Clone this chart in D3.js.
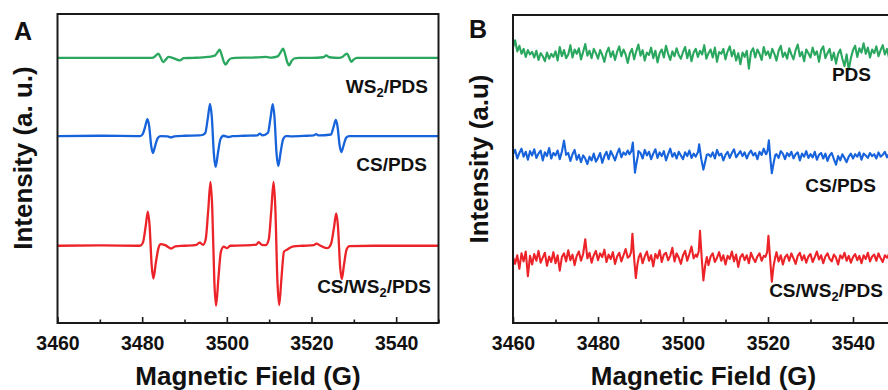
<!DOCTYPE html>
<html>
<head>
<meta charset="utf-8">
<script src="https://cdn.jsdelivr.net/npm/d3@7"></script>
<style>
  body { margin: 0; background: #fff; }
  svg { display: block; font-family: 'Liberation Sans', Arial, sans-serif; font-weight: bold; }
</style>
</head>
<body>
<svg id="chart" width="888" height="390"></svg>
<script>
// field axis (G)
const fieldDomain = [3460, 3550]
const majorTicks = [3460, 3480, 3500, 3520, 3540]
const minorTicks = [3470, 3490, 3510, 3530, 3550]

// panel A: [field, intensity], stacked with offsets
const offsetsA = { ws2: 85.8, cs: 60.5, csws2: 25.0 }

const ws2PdsA = [
  [3460, 0], [3482.0, 0], [3482.6, 0.1], [3483.2, 0.7], [3483.8, 1.4], [3484.35, 0.2], [3484.95, -1.4],
  [3485.6, -0.5], [3486.2, 0.3], [3487, 0.1], [3488.9, -0.8], [3489.8, -0.1], [3492, 0], [3495.5, 0.3],
  [3496.5, 0.5], [3497.2, 0.8], [3497.8, 1.8], [3498.3, 2.7], [3498.8, 0.9], [3499.3, -1.3], [3499.7, -2.2],
  [3500.3, -1.0], [3500.9, -0.2], [3502, 0], [3506, 0.1], [3509.3, 0.3], [3510.5, 0.1], [3512.0, 0.5],
  [3512.7, 1.8], [3513.3, 3.0], [3513.8, 1.0], [3514.3, -1.5], [3514.7, -2.4], [3515.3, -1.0], [3515.9, -0.2],
  [3517, 0], [3520, 0], [3522.8, 0.2], [3523.5, 0.8], [3524.2, 0.2], [3526.5, 0], [3527.3, 0.3],
  [3527.9, 1.0], [3528.4, 1.4], [3528.9, 0.1], [3529.4, -1.3], [3530.0, -0.5], [3530.7, 0], [3550, 0]
]

const csPdsA = [
  [3460, 0], [3470, 0.1], [3479.5, 0],
  [3480.1, 0.55], [3480.7, 3.0], [3481.25, 5.5], [3481.65, 3.3], [3482.15, -3.3], [3482.55, -5.5],
  [3483.1, -3.0], [3483.7, -0.6], [3484.4, 0], [3486.0, -0.1], [3486.8, -0.45], [3487.6, -0.1],
  [3490, 0.1], [3493.5, 0.2], [3494.2, 0.35],
  [3494.9, 1.0], [3495.5, 5.7], [3496.05, 10.4], [3496.45, 6.2], [3496.95, -6.0], [3497.35, -10.0],
  [3497.9, -5.5], [3498.5, -1.0], [3499.2, 0.1], [3500.4, -0.3], [3501.3, -0.05], [3504, 0.1],
  [3507.2, 0.2], [3507.8, 0.8], [3508.4, 0.2],
  [3509.7, 1.0], [3510.3, 5.7], [3510.85, 10.3], [3511.25, 6.2], [3511.75, -5.8], [3512.15, -9.7],
  [3512.7, -5.3], [3513.3, -1.0], [3514.0, 0], [3515, -0.1], [3519, 0.1],
  [3520.5, 0.2], [3521.1, 0.6], [3521.7, 0.2],
  [3524.6, 0.5], [3525.2, 2.9], [3525.75, 5.2], [3526.15, 3.1], [3526.65, -3.1], [3527.05, -5.2],
  [3527.6, -2.9], [3528.2, -0.5], [3528.9, 0], [3535, 0], [3550, 0]
]

const csWs2PdsA = [
  [3460, 0], [3470, 0.1], [3479.5, 0],
  [3480.2, 1.1], [3480.8, 6.0], [3481.35, 11.0], [3481.75, 6.6], [3482.25, -6.4], [3482.65, -10.6],
  [3483.2, -5.8], [3483.8, -1.0], [3484.4, 0.5], [3485.4, 0.2], [3486.9, -0.9], [3487.8, -0.2],
  [3490, 0], [3492.8, 0.3], [3493.6, 1.0], [3494.4, 0.3],
  [3495.0, 2.0], [3495.6, 11.4], [3496.15, 20.7], [3496.55, 12.4], [3497.05, -11.6], [3497.45, -19.4],
  [3498.0, -10.7], [3498.6, -1.9], [3499.3, -0.3], [3500.0, -0.8], [3500.8, 0], [3504, 0.1],
  [3507.0, 0.4], [3507.5, 1.2], [3508.3, 0.3], [3509.2, 0.2],
  [3509.9, 2.0], [3510.5, 11.4], [3511.05, 20.7], [3511.45, 12.4], [3511.95, -11.5], [3512.35, -19.2],
  [3512.9, -10.6], [3513.5, -1.9], [3514.3, -1.2], [3515.5, -0.3], [3518, 0],
  [3520.5, 0.2], [3521.2, 0.7], [3522, 0.1], [3523.6, -0.8], [3524.2, -0.4],
  [3524.7, 1.0], [3525.3, 5.8], [3525.85, 10.5], [3526.25, 6.3], [3526.75, -6.5], [3527.15, -10.8],
  [3527.7, -5.9], [3528.3, -1.1], [3529.0, -0.1], [3535, 0], [3550, 0]
]

// panel B: noisy traces sampled every 0.5 G from 3460 G, plus the narrow lines
const stepB = 0.5
const offsetsB = { pds: 87.0, cs: 54.0, csws2: 20.8 }

const pdsB = [
  2.4, 4.8, 1.2, 3.0, 0.4, 2.0, -0.6, 1.6, 0.2, 1.0,
  -0.8, 1.4, -1.6, 0.6, -0.4, -2.0, 0.8, -1.2, 0.4, -0.6,
  1.2, -1.8, 2.6, -0.4, 1.6, -1.0, 0.2, 3.2, -0.8, 1.8,
  0.4, 2.2, -1.4, 1.0, 3.6, -0.2, 1.4, -1.0, 2.0, 0.6,
  -1.2, 1.6, 0.0, -2.2, 0.8, 2.4, -0.6, 1.2, -1.6, 1.0,
  2.8, -0.4, 1.8, 0.2, -2.6, 0.6, 2.0, -1.4, 1.2, 3.4,
  -0.2, 1.6, -1.8, 0.8, 0.0, 2.4, -1.0, 1.4, -2.4, 0.6,
  1.8, -0.8, 3.0, 0.4, -1.6, 1.2, -0.4, 2.2, 0.0, -1.2,
  1.0, 2.6, -1.0, 1.6, -2.0, 0.8, 2.0, -0.6, 1.4, 0.2,
  3.2, -1.2, 0.6, 1.8, -0.8, 2.4, -2.2, 1.0, 0.4, 2.0,
  -1.4, 1.2, 2.8, -0.4, 1.6, -1.8, 0.6, -3.0, 0.8, -0.6,
  1.4, -4.4, 1.0, 2.2, -0.8, 1.8, 0.4, -1.6, 2.6, 0.0,
  1.2, -1.0, 2.0, 0.4, -1.8, 1.4, 3.0, -0.6, 0.8, -1.2,
  2.2, 0.2, -1.4, 1.6, 3.4, -0.4, 1.0, -2.0, 1.8, 0.6,
  -0.8, 2.4, 0.0, 1.2, -2.2, 1.6, 2.8, -1.0, 0.6, 2.0,
  -1.6, 0.8, -2.8, 0.4, 1.8, -1.2, -3.6, 0.2, -4.8, -1.0,
  1.6, 3.0, -0.6, 2.2, 0.8, 3.8, 0.4, 2.4, -0.8, 1.8,
  0.6, 2.8, -0.4, 1.6, 3.2, 0.2, 2.0, -1.0, 1.4, 2.4,
  0.8
]

const csPdsB = [
  0.8, 2.2, -0.6, 1.2, 2.6, 0.0, 1.6, -1.0, 1.8, 0.4,
  2.4, -0.4, 1.0, 2.0, -1.2, 1.4, 0.2, 2.8, -0.6, 1.2,
  0.4, 2.0, -0.8, 1.6, 5.2, 0.6, 1.2, -1.4, 0.8, 2.2,
  -1.0, 0.6, -1.8, 0.4, -0.6, -2.4, 0.0, -1.2, 1.0, -1.6,
  -0.4, 1.2, -2.0, 0.2, 1.6, -0.8, 1.8, 0.4, -1.2, 1.0,
  2.6, -0.2, 1.4, 0.6, 2.0, 0.4, 0.0, -1.0, 0.8, 1.8,
  1.2, -0.6, 2.2, 0.4, 1.6, -0.8, 1.0, 2.4, -0.4, 1.4,
  0.2, 1.8, -1.2, 0.8, 2.6, 0.0, 1.2, -0.6, 1.6, 0.4,
  -0.8, 1.4, 0.2, 2.0, -0.4, 1.0, 0.0, 0.6, 1.2, 0.4,
  1.8, -1.0, 0.8, 0.0, 1.4, -0.6, 2.2, 0.4, 1.0, -1.2,
  0.6, 1.6, -0.4, 1.2, 2.4, -0.2, 0.8, 1.8, 0.2, 1.4,
  -0.6, 1.0, 2.0, 0.4, 1.2, -0.8, 1.6, 0.6, 2.6, 0.8,
  0.6, 1.6, 0.2, 2.0, 0.8, -0.4, 1.8, 1.0, -0.8, 1.2,
  0.2, 1.6, -0.6, 0.8, 1.4, -1.2, 1.0, 0.0, 1.8, -0.4,
  0.8, -0.2, 1.6, -1.0, 0.6, 1.2, -0.6, 1.0, -1.4, 0.4,
  1.2, -0.8, -2.6, 0.2, -1.2, 0.8, -0.4, -1.8, 0.0, 1.0,
  -0.6, 0.8, 0.0, 1.4, -1.0, 1.0, 0.4, -0.4, 1.2, 0.2,
  0.8, -0.6, 1.4, 0.0, 0.6, 1.6, -0.2, 1.0, 1.8, 0.4,
  1.2
]

const csWs2PdsB = [
  0.6, -1.6, 1.2, -3.2, 1.8, -0.8, 2.4, -5.6, 1.0, -1.8,
  1.6, -0.6, 2.6, -1.2, 0.4, 2.0, -2.2, 0.8, -1.0, 2.2,
  -1.4, 1.2, -3.8, 0.6, 1.8, -0.8, 2.8, -0.4, 1.4, -2.0,
  1.0, 2.4, -0.6, 1.6, 6.4, 0.2, 2.0, -1.2, 1.2, 2.6,
  -0.4, 1.8, 0.6, 3.0, -1.0, 1.4, 0.0, 2.2, -1.6, 0.8,
  2.0, -0.8, 1.2, 3.2, 0.4, 1.6, 0.0, 1.0, -1.2, 0.6,
  1.8, -1.4, 0.8, 2.4, -0.6, 1.2, -2.4, 1.6, 0.2, 2.8,
  -1.0, 1.4, 2.0, -0.4, 1.0, 3.6, -0.8, 1.8, 0.4, -1.6,
  1.2, 2.6, -0.6, 1.6, 4.0, 0.2, 1.4, 0.4, 1.0, 0.6,
  -1.2, 1.6, -2.0, 0.8, 1.8, -1.0, 0.4, 2.2, -0.6, 1.2,
  -1.8, 1.0, 0.0, 2.4, -0.8, 1.4, -2.6, 0.6, 1.6, -0.4,
  1.2, -1.4, 2.0, 0.2, -1.0, 0.8, 1.8, -0.6, 1.0, 0.4,
  0.8, -1.2, 1.6, 0.4, 2.2, -0.8, 1.2, -1.8, 0.6, 1.4,
  -0.6, 1.8, 0.2, -1.6, 1.0, 2.0, -0.4, 1.2, -1.2, 0.8,
  1.6, -1.0, 0.6, 2.4, -0.2, 1.2, -1.4, 0.8, 1.8, 0.0,
  -0.8, 1.4, 0.4, -1.8, 1.2, 0.2, 2.0, -0.6, 1.0, -1.2,
  0.6, 1.6, -0.4, 1.0, -1.4, 1.2, 0.0, 2.0, -0.8, 0.8,
  1.4, -0.6, 1.8, 0.2, -1.0, 1.2, 0.4, 1.6, -0.4, 1.0,
  0.2
]

const csLinesB = [
  [[3487.4, 0.8], [3487.85, 1.8], [3488.2, 4.6], [3488.45, -0.5], [3488.7, -5.2], [3489.0, -2.5], [3489.4, 0.4]],
  [[3503.2, 0.6], [3503.55, 1.6], [3503.8, 4.0], [3504.3, -0.8], [3504.8, -4.2], [3505.2, -1.8], [3505.6, 0.6]],
  [[3519.6, 0.8], [3519.9, 2.0], [3520.2, 5.3], [3520.55, -0.6], [3520.9, -5.4], [3521.3, -2.2], [3521.7, 0.5]]
]
const csWs2LinesB = [
  [[3487.4, 0.8], [3487.8, 2.2], [3488.1, 8.2], [3488.5, 0.2], [3488.9, -6.2], [3489.25, -2.0], [3489.6, 0.6]],
  [[3503.3, 0.7], [3503.7, 2.4], [3504.0, 9.1], [3504.4, 0.4], [3504.8, -7.0], [3505.2, -2.3], [3505.6, 0.6]],
  [[3519.4, 0.7], [3519.8, 2.2], [3520.1, 7.5], [3520.5, 0.0], [3520.9, -7.4], [3521.3, -2.4], [3521.7, 0.5]]
]

const colors = { green: '#2aa75e', blue: '#1763dc', red: '#ec2328' }

// noise grid + line points, grid points under a line are dropped
function mergeB(noise, lines) {
  const pts = noise.map((v, i) => [fieldDomain[0] + i * stepB, v])
    .filter(p => !lines.some(l => p[0] >= l[0][0] && p[0] <= l[l.length - 1][0]))
  return pts.concat(...lines).sort((a, b) => a[0] - b[0])
}

const svg = d3.select('#chart')

function panel(opts) {
  const { left, right, top, bottom } = opts
  const x = d3.scaleLinear().domain(fieldDomain).range([left, right])
  const y = d3.scaleLinear().domain([0, 100]).range([bottom, top])

  const g = svg.append('g')

  opts.traces.forEach(t => {
    g.append('path')
      .datum(t.points)
      .attr('fill', 'none')
      .attr('stroke', t.color)
      .attr('stroke-width', opts.lineWidth)
      .attr('stroke-linejoin', 'round')
      .attr('d', d3.line().curve(opts.curve).x(d => x(d[0])).y(d => y(t.offset + d[1])))
  })

  // frame
  g.append('rect')
    .attr('x', left).attr('y', top)
    .attr('width', right - left).attr('height', bottom - top)
    .attr('fill', 'none').attr('stroke', '#1a1a1a').attr('stroke-width', 2)

  const axis = g.append('g')
    .attr('transform', `translate(0,${bottom})`)
    .call(d3.axisBottom(x).tickValues(majorTicks).tickFormat(d3.format('d')).tickSize(-6).tickPadding(13))
  axis.select('.domain').remove()
  axis.selectAll('line').attr('stroke', '#1a1a1a').attr('stroke-width', 1.6)
  axis.selectAll('text')
    .attr('fill', '#111')
    .style('font-size', '19.5px').style('font-weight', 'bold').style('font-family', 'Liberation Sans, Arial, sans-serif')

  const minor = g.append('g')
    .attr('transform', `translate(0,${bottom})`)
    .call(d3.axisBottom(x).tickValues(minorTicks).tickFormat('').tickSize(-3.5))
  minor.select('.domain').remove()
  minor.selectAll('line').attr('stroke', '#1a1a1a').attr('stroke-width', 1.6)

  g.append('text')
    .attr('x', opts.titleX)
    .attr('y', 385)
    .attr('text-anchor', 'middle')
    .style('font-size', '26px')
    .attr('fill', '#111')
    .text('Magnetic Field (G)')

  g.append('text')
    .attr('transform', `translate(${opts.yLabelX},${opts.yLabelY}) rotate(-90)`)
    .attr('text-anchor', 'middle')
    .attr('dy', '0.35em')
    .style('font-size', '26px')
    .attr('fill', '#111')
    .text(opts.yLabel)

  g.append('text')
    .attr('x', opts.letterX).attr('y', opts.letterY)
    .attr('text-anchor', 'middle')
    .style('font-size', '25px')
    .attr('fill', '#111')
    .text(opts.letter)

  opts.labels.forEach(l => {
    const t = g.append('text')
      .attr('x', l.x).attr('y', l.y)
      .attr('text-anchor', 'end')
      .style('font-size', '19px')
      .attr('fill', '#111')
    l.parts.forEach(p => {
      if (p.sub) {
        t.append('tspan').attr('dy', 4).style('font-size', '13px').text(p.sub)
      } else {
        t.append('tspan').attr('dy', p.after ? -4 : 0).text(p.text)
      }
    })
  })
}

panel({
  left: 57.5, right: 438.5, top: 14, bottom: 323,
  lineWidth: 2.3, curve: d3.curveMonotoneX,
  titleX: 248, yLabel: 'Intensity (a. u.)', yLabelX: 23, yLabelY: 158,
  letter: 'A', letterX: 23, letterY: 40,
  traces: [
    { points: ws2PdsA, offset: offsetsA.ws2, color: colors.green },
    { points: csPdsA, offset: offsetsA.cs, color: colors.blue },
    { points: csWs2PdsA, offset: offsetsA.csws2, color: colors.red }
  ],
  labels: [
    { x: 428, y: 93, parts: [{ text: 'WS' }, { sub: '2' }, { text: '/PDS', after: true }] },
    { x: 427, y: 171, parts: [{ text: 'CS/PDS' }] },
    { x: 431, y: 293, parts: [{ text: 'CS/WS' }, { sub: '2' }, { text: '/PDS', after: true }] }
  ]
})

panel({
  left: 513, right: 895.5, top: 15, bottom: 323,
  lineWidth: 2.1, curve: d3.curveLinear,
  titleX: 703.5, yLabel: 'Intensity (a.u)', yLabelX: 478.5, yLabelY: 159,
  letter: 'B', letterX: 478, letterY: 38,
  traces: [
    { points: mergeB(pdsB, []), offset: offsetsB.pds, color: colors.green },
    { points: mergeB(csPdsB, csLinesB), offset: offsetsB.cs, color: colors.blue },
    { points: mergeB(csWs2PdsB, csWs2LinesB), offset: offsetsB.csws2, color: colors.red }
  ],
  labels: [
    { x: 871, y: 81, parts: [{ text: 'PDS' }] },
    { x: 876, y: 192, parts: [{ text: 'CS/PDS' }] },
    { x: 883, y: 297, parts: [{ text: 'CS/WS' }, { sub: '2' }, { text: '/PDS', after: true }] }
  ]
})
</script>
</body>
</html>
